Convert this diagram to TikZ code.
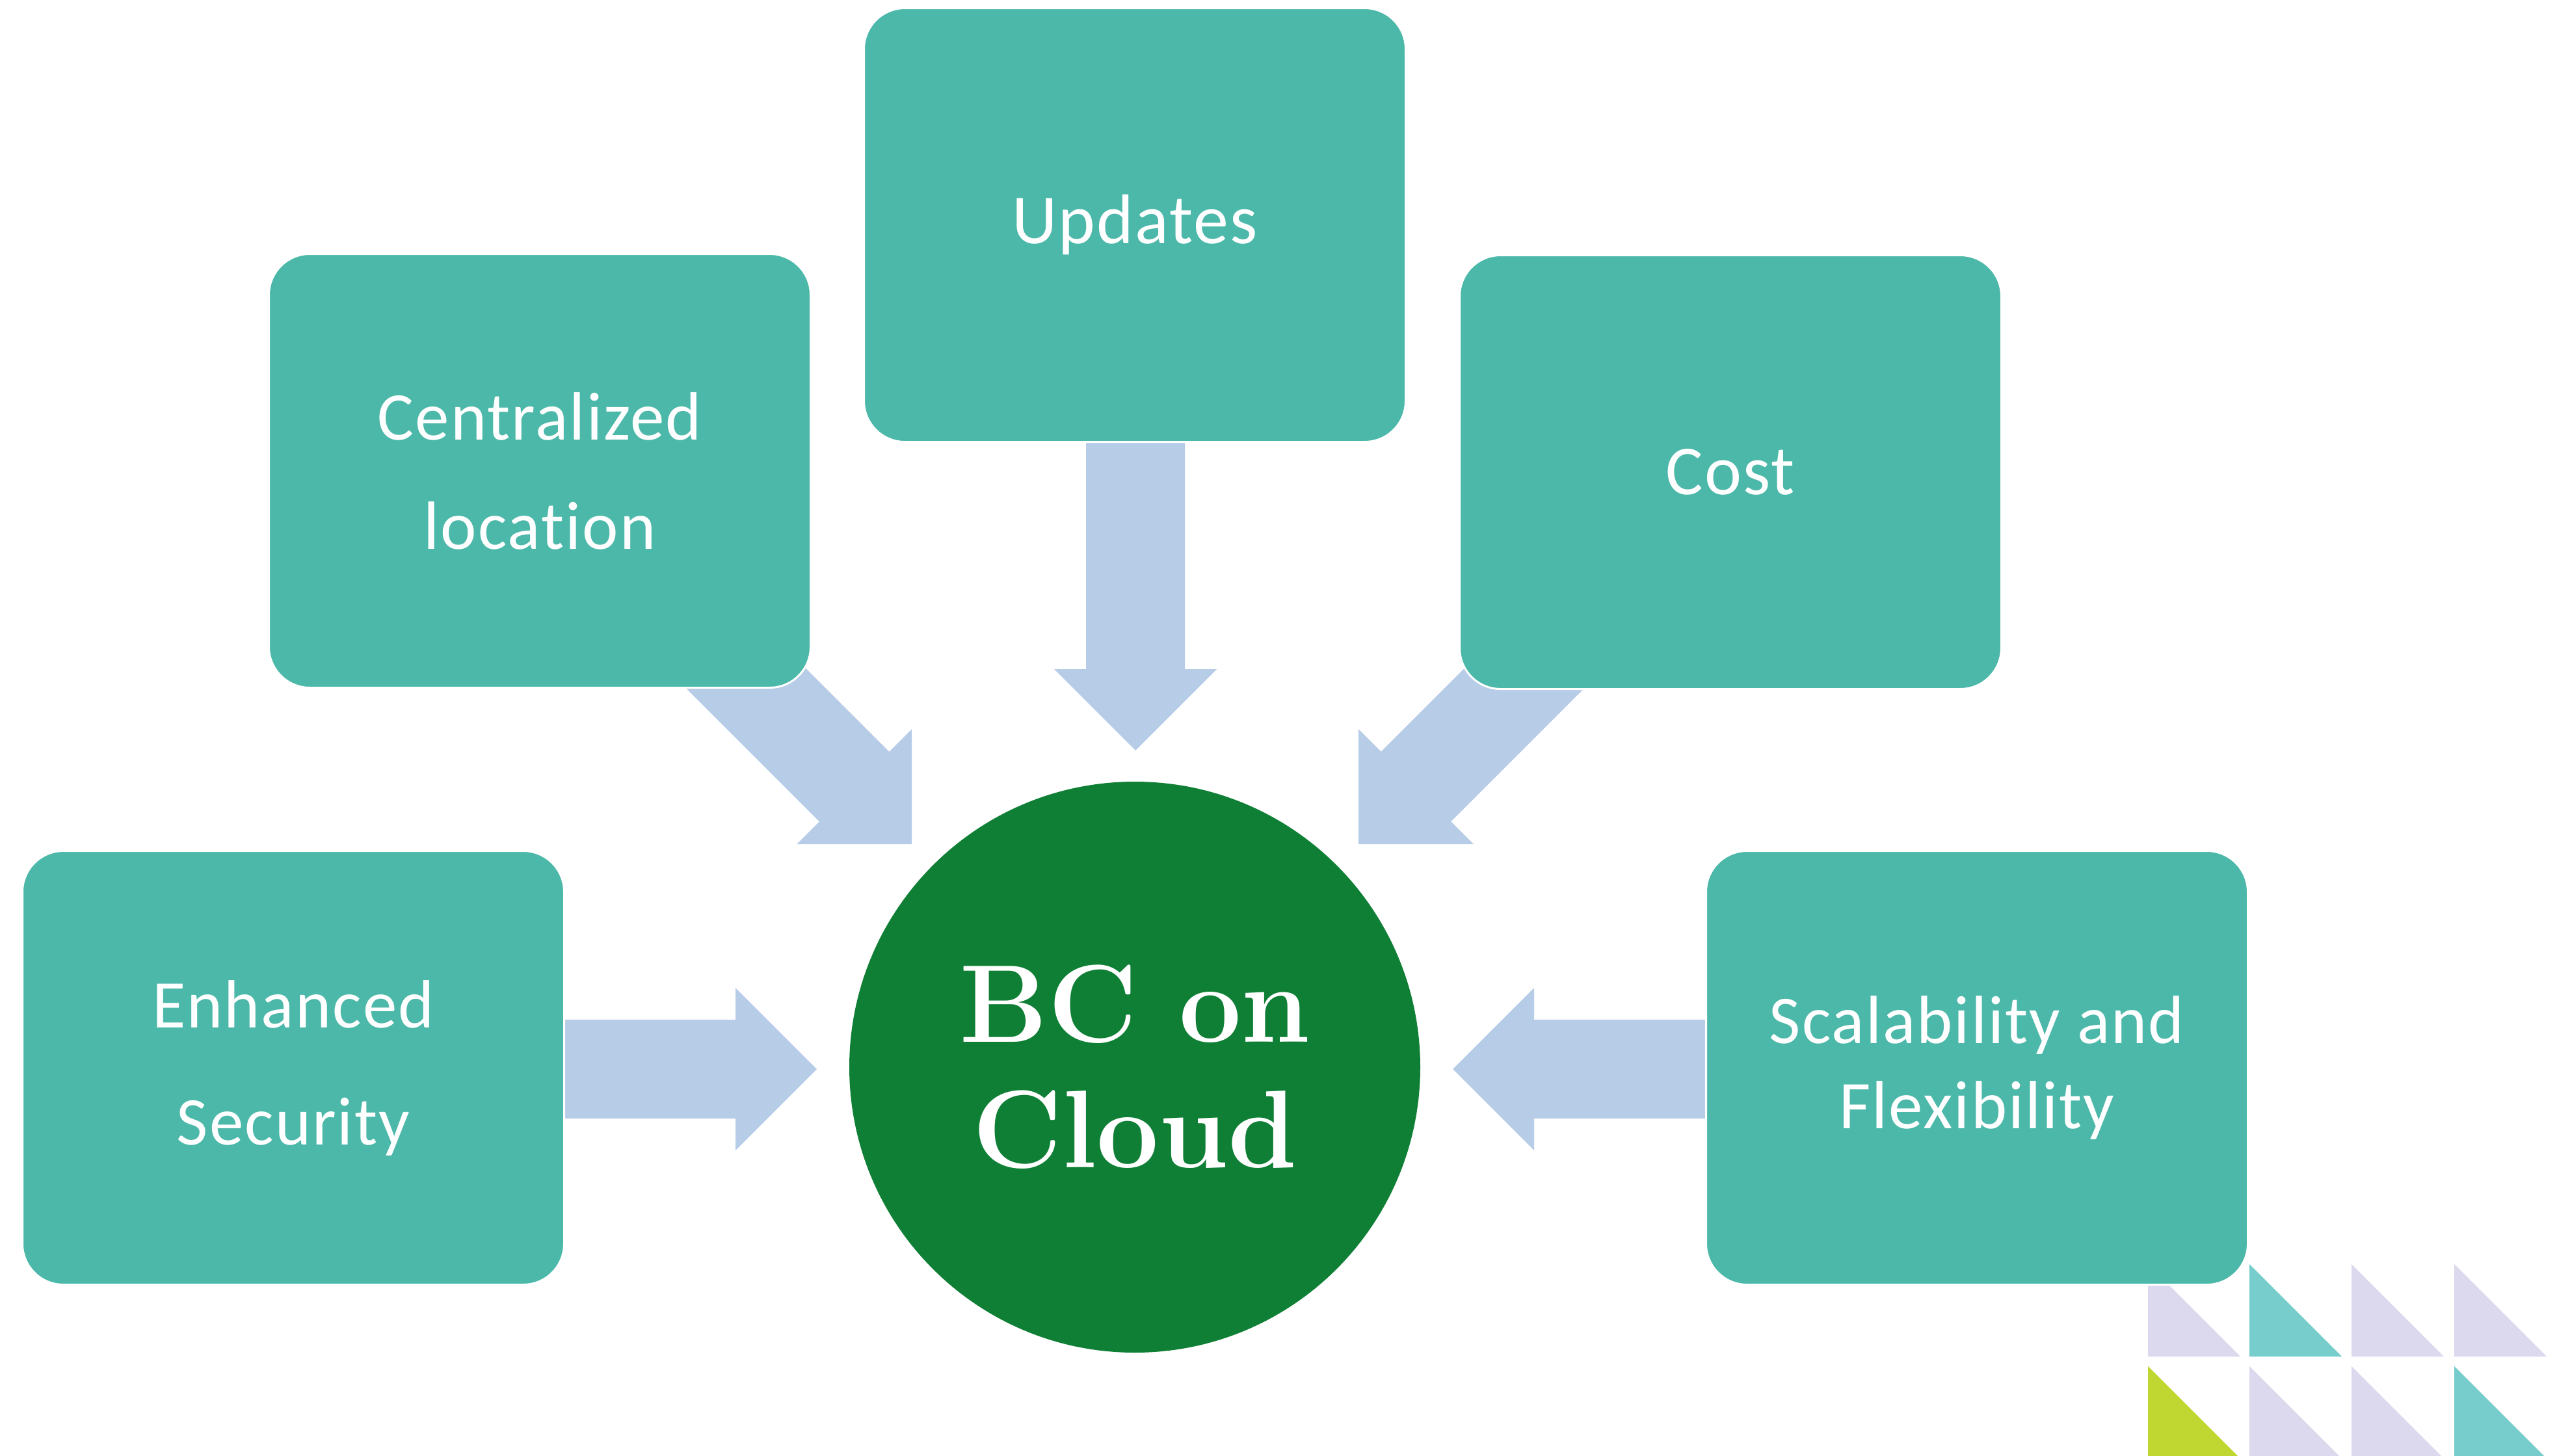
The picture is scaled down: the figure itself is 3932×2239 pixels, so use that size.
\documentclass[tikz,border=0pt]{standalone}
\usepackage{fontspec}
\newfontfamily\carl[Ligatures=NoCommon,LetterSpace=2]{Carlito}
\definecolor{boxc}{HTML}{4BB8A9}
\definecolor{arrc}{HTML}{B7CCE7}
\definecolor{circc}{HTML}{0F7F35}
\definecolor{lavc}{HTML}{DCD9EE}
\definecolor{tealc}{HTML}{77CCCC}
\definecolor{limec}{HTML}{BFD730}
\tikzset{
  box/.style={rectangle, rounded corners=15.75pt, fill=boxc, draw=white, line width=0.75pt,
    minimum width=208.25pt, minimum height=166.75pt, inner sep=0pt, text=white, align=center},
  arrowfill/.style={fill=arrc},
}
\newcommand\blockarrow[3]{\fill[arrowfill,shift={(#1)},rotate=#2] (0,0) -- (-125,125) -- (-125,76) -- (-#3,76) -- (-#3,-76) -- (-125,-76) -- (-125,-125) -- cycle;}
\newcommand\tri[3]{\fill[#3] (#1,#2) -- (#1,#2+142) -- (#1+142,#2+142) -- cycle;}
\begin{document}
\begin{tikzpicture}[x=0.25pt,y=-0.25pt]
\fill[white] (0,0) rectangle (3932,2239);
\useasboundingbox (0,0) rectangle (3932,2239);
% arrow tips
\coordinate (tipD) at (1746,1154);
\coordinate (tipL) at (1256,1644);
\coordinate (tipR) at (2234,1644);
\coordinate (tipDL) at (1402,1298);
\coordinate (tipDR) at (2089,1298);
\blockarrow{tipD}{-90}{494}
\blockarrow{tipL}{0}{400}
\blockarrow{tipR}{180}{400}
\blockarrow{tipDL}{-45}{469}
\blockarrow{tipDR}{-135}{469}
% decorative triangles
\tri{3303}{1944}{lavc}
\tri{3459}{1944}{tealc}
\tri{3616}{1944}{lavc}
\tri{3774}{1944}{lavc}
\tri{3303}{2101}{limec}
\tri{3459}{2101}{lavc}
\tri{3616}{2101}{lavc}
\tri{3774}{2101}{tealc}
% boxes
\node[box, font=\fontsize{27}{32}\carl] (upd) at (1745,346) {Updates};
\node[box, font=\fontsize{26.25}{42}\carl] (cen) at (830,724) {Centralized\\location};
\node[box, font=\fontsize{27}{32}\carl] (cost) at (2661,726) {Cost};
\node[box, font=\fontsize{26.25}{45}\carl] (enh) at (451,1642) {Enhanced\\Security};
\node[box, font=\fontsize{26.25}{32.75}\carl] (sca) at (3040,1642) {Scalability and\\Flexibility};
% centre
\node[circle, fill=circc, minimum size=219.5pt, inner sep=0pt, text=white, align=center,
  font=\fontsize{42.5}{48.25}\selectfont\bfseries] (bc) at (1745,1641) {BC on\\Cloud};
\end{tikzpicture}
\end{document}
